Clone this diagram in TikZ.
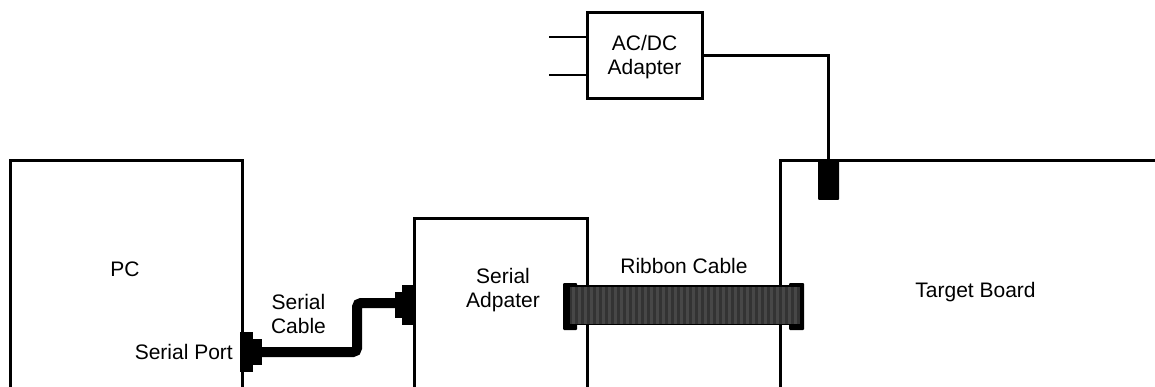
\documentclass[tikz,border=0pt]{standalone}
\usepackage{fontspec}
\setmainfont{Liberation Sans}
\begin{document}
\begin{tikzpicture}[x=1pt,y=-1pt,
  box/.style={line width=3pt},
  lbl/.style={font=\fontsize{21}{24}\selectfont, inner sep=0pt, anchor=base},
  wire/.style={line width=3pt},
  plug/.style={line width=2pt},
  cable/.style={line width=10pt, rounded corners=4pt},
  blk/.style={fill=black, draw=none},
  conn/.style={fill=black, draw=none, rounded corners=1pt, inner sep=0pt},
  ribbonbody/.style={fill=black!80, draw=none},
  ribbonstripe/.style={fill=black!72, draw=none}
]
\useasboundingbox (0,0) rectangle (1155,387);
\fill[white] (0,0) rectangle (1155,387);
\begin{scope}
\clip (0,0) rectangle (1155,387);
% boxes
\draw[box] (10,390) -- (10,161) -- (242,161) -- (242,390);
\draw[box] (414,390) -- (414,219) -- (587.5,219) -- (587.5,390);
\draw[box] (780.5,390) -- (780.5,161) -- (1160,161);

% AC/DC adapter
\node[draw, box, minimum width=115pt, minimum height=86pt, inner sep=0pt] (acdc) at (644.5,56) {};
\node[lbl, anchor=base] (acdct1) at (644.5,50.5) {AC/DC};
\node[lbl, anchor=base] (acdct2) at (644.5,75) {Adapter};
\coordinate (plugA) at (549,37);
\coordinate (plugB) at (549,75);
\draw[plug] (plugA) -- (plugA -| acdc.west);
\draw[plug] (plugB) -- (plugB -| acdc.west);

% power connector
\node[conn, minimum width=21pt, minimum height=39pt] (pwr) at (828.5,180.5) {};
\draw[wire] (acdc.east) -| (pwr.north);

% serial port connector on PC
\fill[blk] (240,332) rectangle (253,372);
\fill[blk] (253,339) rectangle (262,365);
\coordinate (portend) at (260,352);
% adapter connector
\fill[blk] (401.7,285) rectangle (414,325);
\fill[blk] (395,291.7) rectangle (401.7,318.3);
\coordinate (adend) at (397,303);
\draw[cable] (portend) -- (357,352) -- (357,303) -- (adend);

% ribbon cable
\node[conn, minimum width=14pt, minimum height=47pt] (rL) at (570,306.5) {};
\node[conn, minimum width=15pt, minimum height=47pt] (rR) at (796.5,306.5) {};
\fill[ribbonbody] (570,286) rectangle (800,325);
\foreach \x in {572,578,...,796} \fill[ribbonstripe] (\x,287) rectangle ++(3,37);
\draw[black, line width=1.5pt] (570,286) -- (800,286);
\draw[black, line width=1.5pt] (570,324.5) -- (800,324.5);

% labels
\node[lbl] (pc) at (125,276) {PC};
\node[lbl, anchor=base east] (port) at (233,359.5) {Serial Port};
\node[lbl] (cab1) at (298.5,309) {Serial};
\node[lbl] (cab2) at (298.5,333) {Cable};
\node[lbl] (sa1) at (503,283) {Serial};
\node[lbl] (sa2) at (503,307) {Adpater};
\node[lbl] (rib) at (684,273) {Ribbon Cable};
\node[lbl] (tb) at (975.5,297) {Target Board};
\end{scope}
\end{tikzpicture}
\end{document}
